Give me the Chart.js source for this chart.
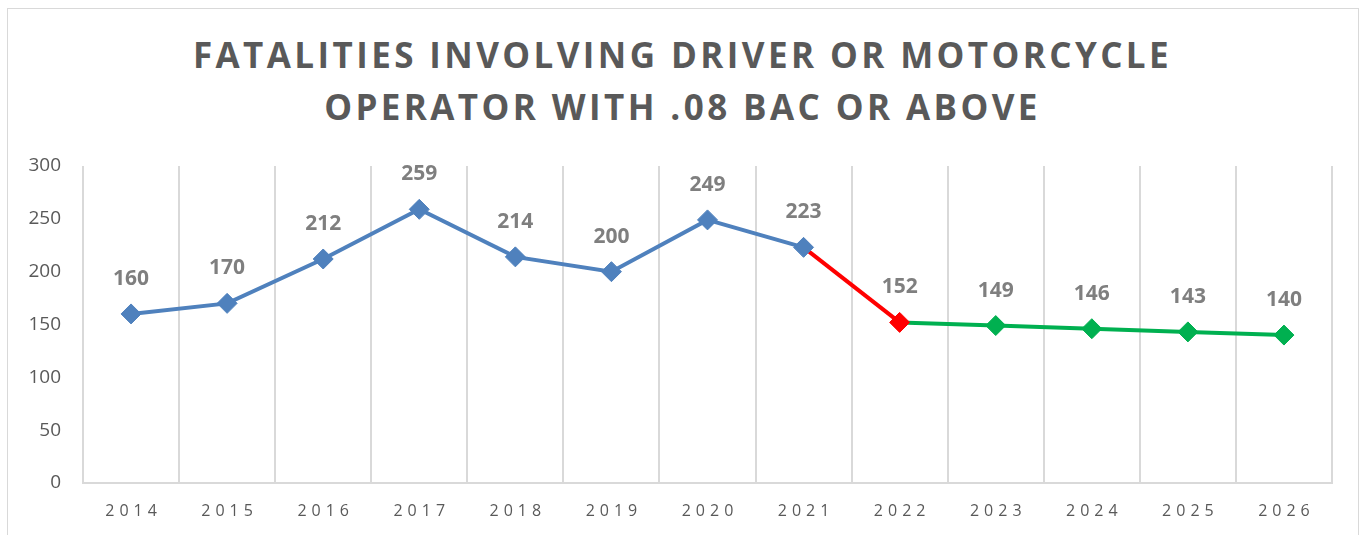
<!DOCTYPE html>
<html>
<head>
<meta charset="utf-8">
<script src="https://cdn.jsdelivr.net/npm/chart.js@4.4.0/dist/chart.umd.min.js"></script>
<style>
  html, body { margin: 0; padding: 0; background: #fff; }
  #wrap { position: relative; width: 1361px; height: 535px; overflow: hidden; }
  #frame { position: absolute; left: 7px; top: 8px; width: 1350px; height: 600px; border: 1px solid #d9d9d9; }
  #title {
    position: absolute; left: 7px; top: 29px; width: 1351px; text-align: center;
    font-family: "Open Sans", sans-serif; font-weight: bold; font-size: 35px;
    line-height: 52px; letter-spacing: 3.4px; color: #595959;
  }
  #box { position: absolute; left: 0; top: 0; width: 1361px; height: 535px; }
</style>
</head>
<body>
<div id="wrap">
  <div id="frame"></div>
  <div id="title">FATALITIES INVOLVING DRIVER OR MOTORCYCLE<br>OPERATOR WITH .08 BAC OR ABOVE</div>
  <div id="box"><canvas id="myChart"></canvas></div>
</div>
<script>
const years = ["2014", "2015", "2016", "2017", "2018", "2019", "2020", "2021", "2022", "2023", "2024", "2025", "2026"];
const actual = [160, 170, 212, 259, 214, 200, 249, 223, null, null, null, null, null];
const drop = [null, null, null, null, null, null, null, 223, 152, null, null, null, null];
const projected = [null, null, null, null, null, null, null, null, 152, 149, 146, 143, 140];
const yTicks = [0, 50, 100, 150, 200, 250, 300];

// label of each year taken from whichever series owns it
function labelAt(i) {
  return actual[i] != null ? actual[i] : projected[i];
}

const pointLabels = {
  id: "pointLabels",
  afterDatasetsDraw(chart) {
    const ctx = chart.ctx;
    const x = chart.scales.x;
    const y = chart.scales.y;
    ctx.save();
    ctx.font = "bold 21px 'Open Sans'";
    ctx.fillStyle = "#7f7f7f";
    ctx.textAlign = "center";
    ctx.textBaseline = "middle";
    years.forEach((yr, i) => {
      const v = labelAt(i);
      ctx.fillText(String(v), x.getPixelForValue(i), y.getPixelForValue(v) - 35);
    });
    // spaced year labels under the axis
    ctx.font = "16px 'Open Sans'";
    ctx.fillStyle = "#595959";
    const sp = 5;
    ctx.letterSpacing = sp + "px";
    years.forEach((yr, i) => {
      ctx.fillText(yr, x.getPixelForValue(i) + sp / 2, 511);
    });
    ctx.restore();
  }
};

const myChart = document.getElementById("myChart").getContext("2d");
new Chart(myChart, {
  type: "line",
  data: {
    labels: years,
    datasets: [
      {
        data: actual,
        borderColor: "#4F81BD",
        backgroundColor: "#4F81BD",
        borderWidth: 4,
        pointStyle: "rectRot",
        pointRadius: 10,
        pointBorderWidth: 1,
        pointBackgroundColor: "#4F81BD",
        pointBorderColor: "#4F81BD",
      },
      {
        data: drop,
        borderColor: "#FF0000",
        backgroundColor: "#FF0000",
        borderWidth: 4,
        pointStyle: "rectRot",
        pointRadius: drop.map((v, i) => (i === 8 ? 10 : 0)),
        pointBorderWidth: 1,
        pointBackgroundColor: "#FF0000",
        pointBorderColor: "#FF0000",
      },
      {
        data: projected,
        borderColor: "#00B050",
        backgroundColor: "#00B050",
        borderWidth: 4,
        pointStyle: "rectRot",
        pointRadius: projected.map((v, i) => (i === 8 ? 0 : 10)),
        pointBorderWidth: 1,
        pointBackgroundColor: "#00B050",
        pointBorderColor: "#00B050",
      },
    ],
  },
  options: {
    responsive: true,
    maintainAspectRatio: false,
    animation: false,
    spanGaps: false,
    layout: { padding: { top: 166, left: 23, right: 29, bottom: 0 } },
    plugins: {
      legend: { display: false },
      tooltip: { enabled: false },
      title: { display: false },
    },
    elements: { line: { tension: 0 } },
    scales: {
      x: {
        offset: true,
        grid: { display: true, offset: true, color: "#d9d9d9", lineWidth: 2, drawTicks: false },
        border: { display: true, color: "#d9d9d9", width: 2 },
        ticks: { display: false },
        afterFit: (scale) => { scale.height = 52; },
      },
      y: {
        min: 0,
        max: 300,
        afterBuildTicks: (scale) => { scale.ticks = yTicks.map((v) => ({ value: v })); },
        grid: { display: false, drawTicks: false },
        border: { display: false },
        ticks: {
          padding: 22,
          color: "#595959",
          font: { family: "'Open Sans'", size: 19 },
        },
        afterFit: (scale) => { scale.width = 60; },
      },
    },
  },
  plugins: [pointLabels],
});
</script>
</body>
</html>
